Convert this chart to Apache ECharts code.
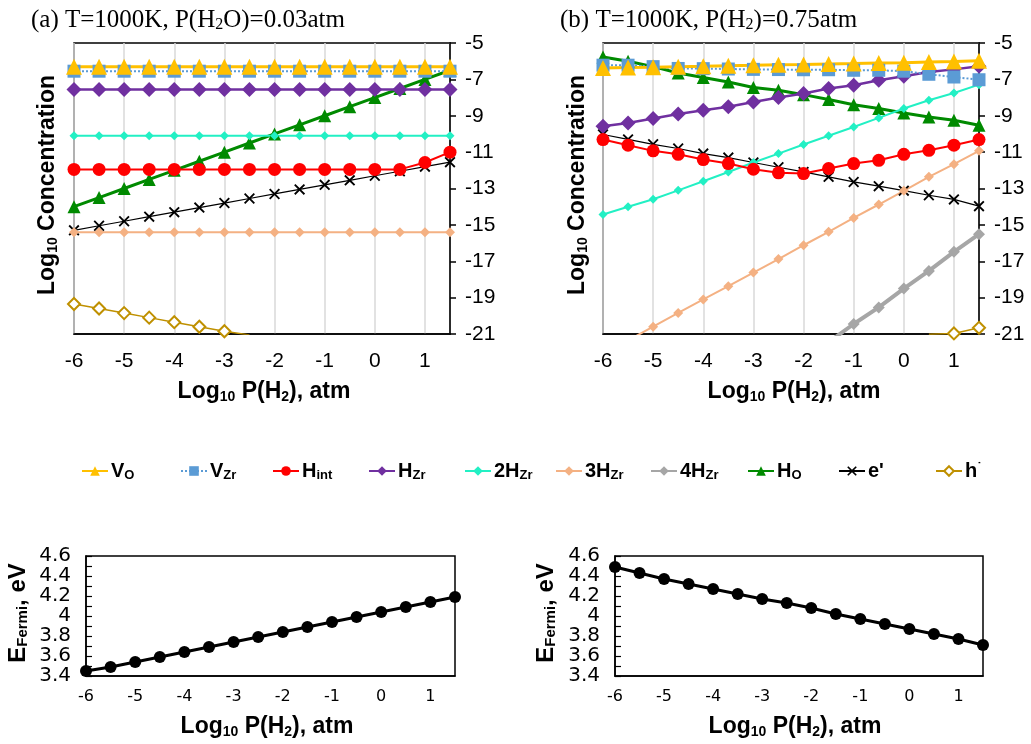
<!DOCTYPE html>
<html><head><meta charset="utf-8">
<script src="https://cdn.jsdelivr.net/npm/echarts@6/dist/echarts.min.js"></script>
<style>html,body{margin:0;padding:0;background:#fff}#c{width:1031px;height:744px}</style>
</head><body><div id="c"></div>
<script>
// ---------- data ----------
const xVals = [-6,-5.5,-5,-4.5,-4,-3.5,-3,-2.5,-2,-1.5,-1,-0.5,0,0.5,1,1.5];
const xTicks = [-6,-5,-4,-3,-2,-1,0,1];
const yTicksTop = [-21,-19,-17,-15,-13,-11,-9,-7,-5];

// panel (a): T=1000K, P(H2O)=0.03atm
const a_VO   = [-6.3,-6.3,-6.3,-6.3,-6.3,-6.3,-6.3,-6.3,-6.3,-6.3,-6.3,-6.3,-6.3,-6.3,-6.3,-6.3];
const a_VZr  = [-6.55,-6.55,-6.55,-6.55,-6.55,-6.55,-6.55,-6.55,-6.55,-6.55,-6.55,-6.55,-6.55,-6.55,-6.55,-6.55];
const a_Hint = [-11.95,-11.95,-11.95,-11.95,-11.95,-11.95,-11.95,-11.95,-11.95,-11.95,-11.95,-11.95,-11.95,-11.95,-11.57,-11.0];
const a_HZr  = [-7.55,-7.55,-7.55,-7.55,-7.55,-7.55,-7.55,-7.55,-7.55,-7.55,-7.55,-7.55,-7.55,-7.55,-7.55,-7.55];
const a_2HZr = [-10.1,-10.1,-10.1,-10.1,-10.1,-10.1,-10.1,-10.1,-10.1,-10.1,-10.1,-10.1,-10.1,-10.1,-10.1,-10.1];
const a_3HZr = [-15.4,-15.4,-15.4,-15.4,-15.4,-15.4,-15.4,-15.4,-15.4,-15.4,-15.4,-15.4,-15.4,-15.4,-15.4,-15.4];
const a_HO   = [-14.0,-13.5,-13.0,-12.5,-12.0,-11.5,-11.0,-10.5,-10.0,-9.5,-9.0,-8.5,-8.0,-7.5,-7.0,-6.5];
const a_e    = [-15.3,-15.05,-14.8,-14.55,-14.3,-14.05,-13.8,-13.55,-13.3,-13.05,-12.8,-12.55,-12.3,-12.05,-11.8,-11.55];
const a_h    = [-19.35,-19.6,-19.85,-20.1,-20.35,-20.6,-20.85,-21.05,null,null,null,null,null,null,null,null];

// panel (b): T=1000K, P(H2)=0.75atm
const b_VO   = [-6.38,-6.35,-6.33,-6.3,-6.28,-6.25,-6.23,-6.2,-6.18,-6.15,-6.13,-6.1,-6.08,-6.05,-6.02,-5.97];
const b_VZr  = [-6.22,-6.22,-6.3,-6.4,-6.41,-6.43,-6.45,-6.46,-6.47,-6.47,-6.5,-6.5,-6.55,-6.72,-6.87,-7.02];
const b_Hint = [-10.31,-10.62,-10.93,-11.12,-11.41,-11.63,-11.94,-12.14,-12.18,-11.9,-11.63,-11.45,-11.12,-10.9,-10.62,-10.31];
const b_HZr  = [-9.58,-9.4,-9.15,-8.9,-8.7,-8.5,-8.24,-8.0,-7.78,-7.5,-7.32,-7.05,-6.83,-6.6,-6.45,-6.28];
const b_2HZr = [-14.43,-14.0,-13.59,-13.1,-12.6,-12.09,-11.57,-11.08,-10.58,-10.1,-9.62,-9.12,-8.6,-8.15,-7.75,-7.29];
const b_3HZr = [null,-21.35,-20.6,-19.84,-19.1,-18.37,-17.62,-16.88,-16.12,-15.38,-14.62,-13.88,-13.13,-12.36,-11.66,-10.93];
const b_4HZr = [null,null,null,null,null,null,null,null,null,-21.45,-20.45,-19.54,-18.5,-17.53,-16.48,-15.51];
const b_HO   = [-5.77,-6.0,-6.3,-6.65,-6.9,-7.14,-7.45,-7.6,-7.84,-8.11,-8.39,-8.6,-8.85,-9.07,-9.25,-9.52];
const b_e    = [-10.03,-10.3,-10.57,-10.8,-11.08,-11.3,-11.57,-11.83,-12.09,-12.36,-12.64,-12.87,-13.12,-13.37,-13.6,-13.97];
const b_h    = [null,null,null,null,null,null,null,null,null,null,null,null,null,-21.02,-20.97,-20.66];

// Fermi level (eV)
const fermi_a = [3.45,3.49,3.54,3.59,3.64,3.69,3.74,3.79,3.84,3.89,3.94,3.99,4.04,4.09,4.14,4.19];
const fermi_b = [4.49,4.43,4.37,4.32,4.27,4.22,4.17,4.13,4.08,4.02,3.97,3.92,3.87,3.82,3.77,3.71];

const seriesNames = ['VO','VZr','Hint','HZr','H2Zr','H3Zr','H4Zr','HO','e','h'];
const legendLabels = {
  VO:'{b|V}{s|O}', VZr:'{b|V}{s|Zr}', Hint:'{b|H}{s|int}', HZr:'{b|H}{s|Zr}',
  H2Zr:'{b|2H}{s|Zr}', H3Zr:'{b|3H}{s|Zr}', H4Zr:'{b|4H}{s|Zr}', HO:'{b|H}{s|O}',
  e:"{b|e'}", h:'{b|h}{p|˙}'
};

// ---------- styles ----------
const XMARK = 'path://M0,1.2L1.2,0L5,3.8L8.8,0L10,1.2L6.2,5L10,8.8L8.8,10L5,6.2L1.2,10L0,8.8L3.8,5Z';
const ST = {
  VO:  {color:'#FFC000', symbol:'triangle', size:16, lw:3},
  VZr: {color:'#5B9BD5', symbol:'rect', size:13, lw:2, type:'dotted'},
  Hint:{color:'#FF0000', symbol:'circle', size:13, lw:2},
  HZr: {color:'#7030A0', symbol:'diamond', size:15, lw:2.5},
  H2Zr:{color:'#22F0C4', symbol:'diamond', size:9, lw:2},
  H3Zr:{color:'#F4B183', symbol:'diamond', size:10, lw:2},
  H4Zr:{color:'#A6A6A6', symbol:'diamond', size:12, lw:4},
  HO:  {color:'#008A00', symbol:'triangle', size:13, lw:3},
  e:   {color:'#000000', symbol:XMARK, size:11, lw:1.2},
  h:   {color:'#BF9000', symbol:'emptyDiamond', size:12, lw:1.5}
};

function pts(arr){ return xVals.map((x,i)=>[x,arr[i]]).filter(p=>p[1]!==null); }
function mk(name, arr, idx){
  const s = ST[name];
  return {
    type:'line', name, xAxisIndex:idx, yAxisIndex:idx, data:pts(arr),
    symbol:s.symbol, symbolSize:s.size, showAllSymbol:true, clip:true,
    lineStyle:{color:s.color, width:s.lw, type:s.type||'solid'},
    itemStyle:{color:s.color, borderWidth: s.symbol==='emptyDiamond'?1.5:0},
    emphasis:{disabled:true}, animation:false
  };
}

const A = {VO:a_VO,VZr:a_VZr,Hint:a_Hint,HZr:a_HZr,H2Zr:a_2HZr,H3Zr:a_3HZr,HO:a_HO,e:a_e,h:a_h};
const B = {VO:b_VO,VZr:b_VZr,Hint:b_Hint,HZr:b_HZr,H2Zr:b_2HZr,H3Zr:b_3HZr,H4Zr:b_4HZr,HO:b_HO,e:b_e,h:b_h};
const drawOrder = ['h','e','HO','H4Zr','H3Zr','H2Zr','HZr','Hint','VZr','VO'];
const series = [];
drawOrder.forEach(n=>{ if(A[n]) series.push(mk(n,A[n],0)); });
drawOrder.forEach(n=>{ if(B[n]) series.push(mk(n,B[n],1)); });
['fa','fb'].forEach((k,j)=>{
  series.push({type:'line', name:'EF'+k, xAxisIndex:2+j, yAxisIndex:2+j,
    data:pts(j===0?fermi_a:fermi_b), symbol:'circle', symbolSize:12, showAllSymbol:true,
    lineStyle:{color:'#000', width:3}, itemStyle:{color:'#000'}, emphasis:{disabled:true}, animation:false});
});

// ---------- layout ----------
const FONT = '"Liberation Sans", Arial, sans-serif';
const FONT2 = '"DejaVu Sans", Verdana, sans-serif';
const grids = [
  {left:74, top:43, width:376, height:291},
  {left:603, top:43, width:376, height:291},
  {left:86, top:556, width:369, height:120},
  {left:615, top:556, width:368, height:120}
].map(g=>Object.assign(g,{show:true, borderColor:'#000', borderWidth:1.5, backgroundColor:'transparent'}));

function xAxisTop(i){ return {gridIndex:i, type:'value', min:-6, max:1.5, interval:1,
  axisLine:{onZero:false, lineStyle:{color:'#000', width:1.5}}, axisTick:{show:false},
  axisLabel:{color:'#000', fontSize:21, fontFamily:FONT, margin:17, showMaxLabel:false},
  splitLine:{show:true, lineStyle:{color:'#d9d9d9', width:1.5}}}; }
function yAxisTop(i){ return {gridIndex:i, type:'value', position:'right', min:-21, max:-5, interval:2,
  axisLine:{show:true, onZero:false, lineStyle:{color:'#000', width:1.5}},
  axisTick:{show:true, length:6, lineStyle:{color:'#000',width:1.5}},
  axisLabel:{color:'#000', fontSize:21, fontFamily:FONT, margin:15}, splitLine:{show:false}}; }
function xAxisBot(i){ return {gridIndex:i, type:'value', min:-6, max:1.5, interval:1,
  axisLine:{onZero:false, lineStyle:{color:'#000', width:1.5}}, axisTick:{show:false},
  axisLabel:{color:'#000', fontSize:16, fontFamily:FONT2, margin:13, showMaxLabel:false},
  splitLine:{show:false}}; }
function yAxisBot(i){ return {gridIndex:i, type:'value', min:3.4, max:4.6, interval:0.2,
  axisLine:{show:true, onZero:false, lineStyle:{color:'#000', width:1.5}},
  axisTick:{show:true, inside:true, length:6, lineStyle:{color:'#000',width:1.2}},
  minorTick:{show:true, splitNumber:2, length:6, lineStyle:{color:'#000',width:1.2}},
  axisLabel:{color:'#000', fontSize:20, fontFamily:FONT2, margin:15, formatter:v=>String(+v.toFixed(1))},
  splitLine:{show:false}}; }

function richSans(big, small, pad){ return {
  b:{fontFamily:FONT, fontWeight:'bold', fontSize:big, fill:'#000'},
  s:{fontFamily:FONT, fontWeight:'bold', fontSize:small, fill:'#000', padding:[pad,0,0,0], verticalAlign:'bottom'}
};}
const SERIF = '"Liberation Serif", "Times New Roman", serif';
const richSerif = {
  b:{fontFamily:SERIF, fontSize:25, fill:'#000'},
  s:{fontFamily:SERIF, fontSize:16, fill:'#000', padding:[9,0,0,0], verticalAlign:'bottom'}
};
function gtext(x,y,text,rich,rot,align){
  return {type:'text', x, y, rotation:rot||0, z:100, silent:true,
    style:{text, rich, align:align||'center', verticalAlign:'middle', fill:'#000'}};
}
const RT = richSans(23,14,10);
const RE = richSans(24,15,10);
const graphics = [
  gtext(31,20,'{b|(a) T=1000K, P(H}{s|2}{b|O)=0.03atm}',richSerif,0,'left'),
  gtext(560,20,'{b|(b) T=1000K, P(H}{s|2}{b|)=0.75atm}',richSerif,0,'left'),
  gtext(48,185,'{b|Log}{s|10}{b| Concentration}',RT,Math.PI/2),
  gtext(578,185,'{b|Log}{s|10}{b| Concentration}',RT,Math.PI/2),
  gtext(264,392,'{b|Log}{s|10}{b| P(H}{s|2}{b|), atm}',RT,0),
  gtext(794,392,'{b|Log}{s|10}{b| P(H}{s|2}{b|), atm}',RT,0),
  gtext(18,613,'{b|E}{s|Fermi}{b|, eV}',RE,Math.PI/2),
  gtext(546,613,'{b|E}{s|Fermi}{b|, eV}',RE,Math.PI/2),
  gtext(267,727,'{b|Log}{s|10}{b| P(H}{s|2}{b|), atm}',RT,0),
  gtext(795,727,'{b|Log}{s|10}{b| P(H}{s|2}{b|), atm}',RT,0)
];

const legendLeft = {VO:76, VZr:175, Hint:267, HZr:363, H2Zr:459, H3Zr:550, H4Zr:645, HO:742, e:833, h:930};
const legends = seriesNames.map(n=>({
  data:[n], left:legendLeft[n], top:456, itemWidth:26, itemHeight:12, itemGap:0, selectedMode:false,
  formatter:()=>legendLabels[n],
  textStyle:{padding:[0,0,0,-2], rich:{
    b:{fontFamily:FONT, fontWeight:'bold', fontSize:20, color:'#000'},
    s:{fontFamily:FONT, fontWeight:'bold', fontSize:13, color:'#000', padding:[9,0,0,0], verticalAlign:'bottom'},
    p:{fontFamily:FONT, fontWeight:'bold', fontSize:13, color:'#000', verticalAlign:'top'}
  }}
}));

const chart = echarts.init(document.getElementById('c'), null, {renderer:'canvas'});
chart.setOption({
  animation:false,
  backgroundColor:'#fff',
  grid:grids,
  xAxis:[xAxisTop(0), xAxisTop(1), xAxisBot(2), xAxisBot(3)],
  yAxis:[yAxisTop(0), yAxisTop(1), yAxisBot(2), yAxisBot(3)],
  legend:legends,
  graphic:graphics,
  series
});
</script></body></html>
